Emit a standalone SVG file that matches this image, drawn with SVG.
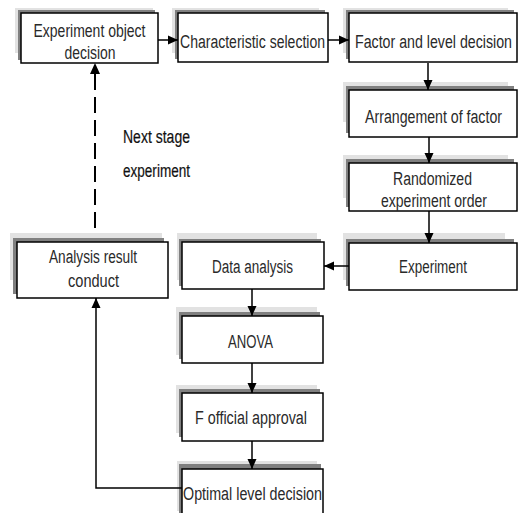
<svg xmlns="http://www.w3.org/2000/svg" width="522" height="513" viewBox="0 0 522 513">
<style>
.lg{fill:#e2e2e2}
.dg{fill:#808080}
.bx{fill:#fff;stroke:#000;stroke-width:1.5}
.t{font-family:"Liberation Sans",Arial,sans-serif;font-size:19px;fill:#2a2a2a;text-anchor:middle}
.lab{font-family:"Liberation Sans",Arial,sans-serif;font-size:19px;fill:#111;stroke:#111;stroke-width:0.2}
.c{fill:none;stroke:#000;stroke-width:1.5}
.d{fill:none;stroke:#000;stroke-width:2;stroke-dasharray:16 7}
</style>
<defs>
<marker id="ah" markerUnits="userSpaceOnUse" markerWidth="10" markerHeight="10" viewBox="0 0 10 10" refX="10" refY="5" orient="auto">
<path d="M0,0.5 L10,5 L0,9.5 Z" fill="#000"/>
</marker>
</defs>
<rect width="522" height="513" fill="#fff"/>

<g id="n1">
<rect class="lg" x="15" y="8" width="138" height="45"/>
<rect class="dg" x="18" y="10" width="137" height="50"/>
<rect class="bx" x="21" y="13" width="137" height="50"/>
<text class="t" transform="translate(89.5,37) scale(0.78,1)" textLength="143.6" lengthAdjust="spacingAndGlyphs">Experiment object</text>
<text class="t" transform="translate(90,59) scale(0.78,1)" textLength="65.4" lengthAdjust="spacingAndGlyphs">decision</text>
</g>
<g id="n2">
<rect class="lg" x="172" y="8" width="147" height="45"/>
<rect class="dg" x="175" y="10" width="150" height="49"/>
<rect class="bx" x="178" y="13" width="150" height="49"/>
<text class="t" transform="translate(252.5,48) scale(0.78,1)" textLength="185.9" lengthAdjust="spacingAndGlyphs">Characteristic selection</text>
</g>
<g id="n3">
<rect class="lg" x="343" y="8" width="165" height="45"/>
<rect class="dg" x="346" y="10" width="168" height="49"/>
<rect class="bx" x="349" y="13" width="168" height="49"/>
<text class="t" transform="translate(433.5,48) scale(0.78,1)" textLength="201.3" lengthAdjust="spacingAndGlyphs">Factor and level decision</text>
</g>
<g id="n4">
<rect class="lg" x="343" y="82" width="165" height="40"/>
<rect class="dg" x="346" y="86" width="168" height="47"/>
<rect class="bx" x="349" y="90" width="168" height="47"/>
<text class="t" transform="translate(433.5,123) scale(0.78,1)" textLength="175.6" lengthAdjust="spacingAndGlyphs">Arrangement of factor</text>
</g>
<g id="n5">
<rect class="lg" x="343" y="155" width="165" height="43"/>
<rect class="dg" x="346" y="159" width="168" height="48"/>
<rect class="bx" x="349" y="163" width="168" height="48"/>
<text class="t" transform="translate(432.5,185) scale(0.78,1)" textLength="101.3" lengthAdjust="spacingAndGlyphs">Randomized</text>
<text class="t" transform="translate(434,207) scale(0.78,1)" textLength="135.9" lengthAdjust="spacingAndGlyphs">experiment order</text>
</g>
<g id="n6">
<rect class="lg" x="343" y="233" width="162" height="47"/>
<rect class="dg" x="346" y="239" width="168" height="47"/>
<rect class="bx" x="349" y="243" width="168" height="47"/>
<text class="t" transform="translate(433,273) scale(0.78,1)" textLength="87.2" lengthAdjust="spacingAndGlyphs">Experiment</text>
</g>
<g id="n7">
<rect class="lg" x="177" y="233" width="140" height="47"/>
<rect class="dg" x="179" y="239" width="142" height="47"/>
<rect class="bx" x="182" y="242" width="142" height="47"/>
<text class="t" transform="translate(252.5,273) scale(0.78,1)" textLength="103.8" lengthAdjust="spacingAndGlyphs">Data analysis</text>
</g>
<g id="n8">
<rect class="lg" x="10" y="233" width="152" height="47"/>
<rect class="dg" x="13" y="238" width="151" height="56"/>
<rect class="bx" x="17" y="242" width="151" height="56"/>
<text class="t" transform="translate(93,263) scale(0.78,1)" textLength="112.8" lengthAdjust="spacingAndGlyphs">Analysis result</text>
<text class="t" transform="translate(93.5,287) scale(0.78,1)" textLength="65.4" lengthAdjust="spacingAndGlyphs">conduct</text>
</g>
<g id="n9">
<rect class="lg" x="176" y="307" width="141" height="48"/>
<rect class="dg" x="179" y="312" width="141" height="47"/>
<rect class="bx" x="182" y="316" width="141" height="47"/>
<text class="t" transform="translate(250.5,348) scale(0.78,1)" textLength="57.7" lengthAdjust="spacingAndGlyphs">ANOVA</text>
</g>
<g id="n10">
<rect class="lg" x="176" y="385" width="141" height="48"/>
<rect class="dg" x="179" y="389" width="141" height="48"/>
<rect class="bx" x="182" y="393" width="141" height="48"/>
<text class="t" transform="translate(251,424) scale(0.78,1)" textLength="143.6" lengthAdjust="spacingAndGlyphs">F official approval</text>
</g>
<g id="n11">
<rect class="lg" x="177" y="461" width="140" height="50"/>
<rect class="dg" x="179" y="464" width="142" height="50"/>
<rect class="bx" x="182" y="469" width="141" height="50"/>
<text class="t" transform="translate(252.5,500) scale(0.78,1)" textLength="178.2" lengthAdjust="spacingAndGlyphs">Optimal level decision</text>
</g>

<g id="connectors">
<path class="c" d="M158,40 H178" marker-end="url(#ah)"/>
<path class="c" d="M328,40 H349" marker-end="url(#ah)"/>
<path class="c" d="M428,63 V90" marker-end="url(#ah)"/>
<path class="c" d="M429,137 V163" marker-end="url(#ah)"/>
<path class="c" d="M429,211 V243" marker-end="url(#ah)"/>
<path class="c" d="M349,266 H324" marker-end="url(#ah)"/>
<path class="c" d="M252,289 V316" marker-end="url(#ah)"/>
<path class="c" d="M252,363 V393" marker-end="url(#ah)"/>
<path class="c" d="M252,441 V469" marker-end="url(#ah)"/>
<path class="c" d="M182,488 H96 V298" marker-end="url(#ah)"/>
<path class="d" d="M95,228 V74"/>
<path d="M95,63 L90,74 L100,74 Z" fill="#000"/>
<text class="lab" transform="translate(123,143) scale(0.78,1)" textLength="85.9" lengthAdjust="spacingAndGlyphs">Next stage</text>
<text class="lab" transform="translate(123,177) scale(0.78,1)" textLength="85.9" lengthAdjust="spacingAndGlyphs">experiment</text>
</g>
</svg>
